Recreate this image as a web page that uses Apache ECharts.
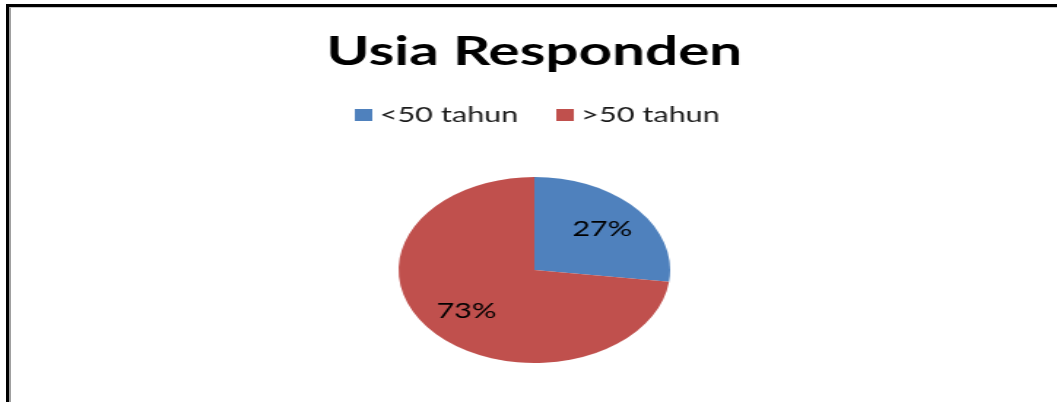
<!DOCTYPE html>
<html>
<head>
<meta charset="utf-8">
<script src="https://cdn.jsdelivr.net/npm/echarts@6/dist/echarts.min.js"></script>
<style>
  html, body { margin: 0; padding: 0; background: #fff; overflow: hidden; width: 1057px; height: 402px; }
  #frame { position: absolute; left: 6px; top: 4px; width: 1100px; height: 450px;
           border-left: 3px solid #000; border-top: 3px solid #000; }
  #frame2 { position: absolute; left: 0; top: 0; width: 1100px; height: 450px;
            border-left: 2px solid #a0a0a0; border-top: 1px solid #c8c8c8; }
  #wrap { position: absolute; left: 0; top: 0; width: 731.5px; height: 402px;
          transform: scaleX(1.46); transform-origin: 0 0; }
  #chart { width: 731.5px; height: 402px; }
</style>
</head>
<body>
<div id="frame"><div id="frame2"></div></div>
<div id="wrap"><div id="chart"></div></div>
<script>
const titleText = 'Usia Responden';
const categories = ['<50 tahun', '>50 tahun'];
const values = [27, 73];
const colors = ['#4F81BD', '#C0504D'];

const chart = echarts.init(document.getElementById('chart'), null, { renderer: 'canvas' });
const pieData = categories.map((c, i) => ({ name: c, value: values[i], itemStyle: { color: colors[i] } }));
const labelData = categories.map((c, i) => ({ name: c, value: values[i] }));

chart.setOption({
  animation: false,
  backgroundColor: 'transparent',
  title: {
    text: titleText,
    left: 'center',
    top: 27,
    textStyle: { fontFamily: 'Lato', fontWeight: 'bold', fontSize: 40, color: '#000' }
  },
  legend: {
    data: categories,
    left: 238,
    top: 99,
    icon: 'rect',
    itemWidth: 12,
    itemHeight: 12,
    itemGap: 26,
    selectedMode: false,
    textStyle: { fontFamily: 'Lato', fontSize: 21, color: '#1a1a1a', lineHeight: 22 }
  },
  series: [
    {
      type: 'pie',
      center: ['50%', 270],
      radius: [0, 93],
      startAngle: 90,
      clockwise: true,
      silent: true,
      label: { show: false },
      labelLine: { show: false },
      itemStyle: { borderWidth: 0 },
      data: pieData
    },
    {
      type: 'pie',
      center: ['50%', 270],
      radius: [25, 93],
      startAngle: 90,
      clockwise: true,
      silent: true,
      itemStyle: { color: 'rgba(0,0,0,0)', borderWidth: 0 },
      label: {
        show: true,
        position: 'inside',
        formatter: '{d}%',
        fontFamily: 'Lato',
        fontSize: 21,
        color: '#000'
      },
      labelLine: { show: false },
      data: labelData
    }
  ]
});
</script>
</body>
</html>
